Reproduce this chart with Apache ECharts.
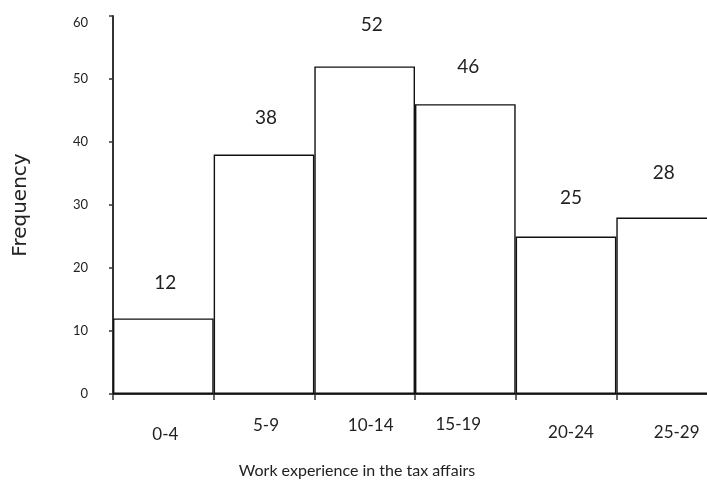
<!DOCTYPE html>
<html>
<head>
<meta charset="utf-8">
<script src="https://cdn.jsdelivr.net/npm/echarts@6/dist/echarts.min.js"></script>
<style>
  html, body { margin: 0; padding: 0; background: #fff; overflow: hidden; }
  #chart { width: 717px; height: 487px; }
</style>
</head>
<body>
<div id="chart"></div>
<script>
// Frequency of years of work experience in tax affairs
const categories = ['0-4', '5-9', '10-14', '15-19', '20-24', '25-29'];
const frequencies = [12, 38, 52, 46, 25, 28];
const yTicks = [0, 10, 20, 30, 40, 50, 60];

// staggered category label placement (vertical drop, horizontal shift)
const labelDrop = [10, 1, 1, 0, 8, 8];
const labelShift = [2, 2, 6, -7, 5, 10];
// small nudges for the value labels above the bars
const valueShift = [2, 2, 7, 3, 5, -3];
const valueLift = [0, 1, 6, 1.5, 3, 9];

const FONT = 'Lato, "Open Sans", sans-serif';

const chart = echarts.init(document.getElementById('chart'));

const rich = {};
categories.forEach((c, i) => {
  const s = labelShift[i];
  rich['c' + i] = {
    fontFamily: FONT,
    fontSize: 17,
    color: '#222',
    padding: [labelDrop[i], s < 0 ? -s * 2 : 0, 0, s > 0 ? s * 2 : 0]
  };
});

chart.setOption({
  animation: false,
  backgroundColor: '#ffffff',
  grid: { left: 113, right: 0, top: 16, bottom: 93, containLabel: false },
  xAxis: {
    type: 'category',
    data: categories,
    name: 'Work experience in the tax affairs',
    nameLocation: 'middle',
    nameGap: 69,
    nameTextStyle: { fontFamily: FONT, fontSize: 16, color: '#222', padding: [0, 116, 0, 0] },
    axisLine: { lineStyle: { color: '#333', width: 2 } },
    axisTick: { show: true, alignWithLabel: false, length: 6, lineStyle: { color: '#333', width: 1.5 } },
    axisLabel: {
      interval: 0,
      margin: 22,
      formatter: (v) => '{c' + categories.indexOf(v) + '|' + v + '}',
      rich: rich
    },
    splitLine: { show: false }
  },
  yAxis: {
    type: 'value',
    min: yTicks[0],
    max: yTicks[yTicks.length - 1],
    interval: 10,
    name: 'Frequency',
    nameLocation: 'middle',
    nameGap: 82,
    nameRotate: 90,
    nameTextStyle: { fontFamily: '"DejaVu Sans", sans-serif', fontSize: 20, color: '#222' },
    axisLine: { show: true, lineStyle: { color: '#333', width: 2 } },
    axisTick: { show: true, length: 4, lineStyle: { color: '#333', width: 1.5 } },
    axisLabel: {
      margin: 25,
      formatter: (v) => (v === 60 ? '{top|' + v + '}' : '{n|' + v + '}'),
      rich: {
        n: { fontFamily: FONT, fontSize: 13, color: '#222' },
        top: { fontFamily: FONT, fontSize: 13, color: '#222', padding: [14, 0, 0, 0] }
      }
    },
    splitLine: { show: false }
  },
  series: [{
    type: 'bar',
    barCategoryGap: '0%',
    data: frequencies.map((v, i) => ({
      value: v,
      label: { offset: [valueShift[i], -valueLift[i]] }
    })),
    itemStyle: { color: '#ffffff', borderColor: '#111', borderWidth: 1.4 },
    label: {
      show: true,
      position: 'top',
      distance: 26,
      fontFamily: FONT,
      fontSize: 19,
      color: '#222'
    }
  }]
});
</script>
</body>
</html>
